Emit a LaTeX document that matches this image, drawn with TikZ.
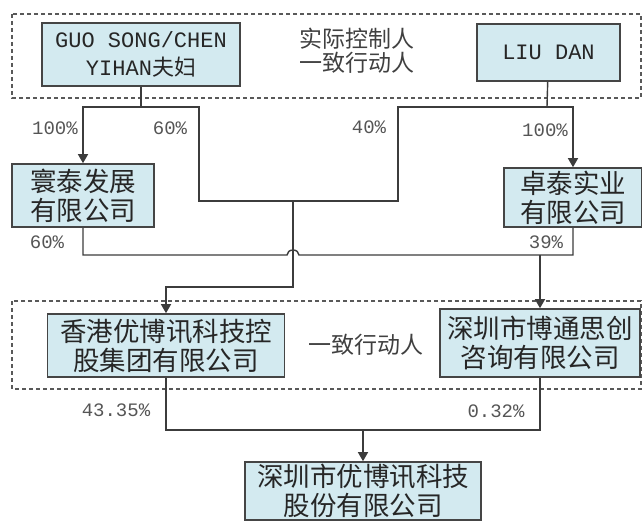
\documentclass[tikz,border=0pt]{standalone}
\usepackage{fontspec}
\setmainfont{Liberation Mono}
\newfontfamily\cjk{Noto Sans CJK SC}
\usetikzlibrary{arrows.meta}

\definecolor{boxfill}{HTML}{D3EAF0}
\definecolor{boxline}{HTML}{454545}
\definecolor{wirecol}{HTML}{3C3C3C}
\definecolor{pctcol}{HTML}{555555}

\tikzset{
    holder/.style={draw=boxline, line width=1.6pt, fill=boxfill, align=center,
        inner sep=0pt, text=black!85, font=\cjk\fontsize{26.5}{29}\selectfont},
    person/.style={holder, font=\rmfamily\fontsize{22}{28}\selectfont},
    group/.style={draw=black!65, dash pattern=on 4pt off 3pt, line width=1.2pt},
    wire/.style={draw=wirecol, line width=1.4pt},
    link/.style={wire, -{Triangle[length=9pt,width=10pt]}},
    pct/.style={text=pctcol, inner sep=0pt, font=\fontsize{19}{21}\selectfont},
    note/.style={text=black!75, align=center, inner sep=0pt, font=\cjk\fontsize{23}{24}\selectfont}
}

\begin{document}
\begin{tikzpicture}[x=1pt, y=-1pt]
\useasboundingbox (0,0) rectangle (642,521);

%acting in concert groups
\draw[group] (12,14) rectangle (641,98);
\draw[group] (12,301) rectangle (641,389);

%actual controllers
\node[person, minimum width=198pt, minimum height=63pt] (guo) at (141,54.5) {GUO SONG/CHEN\\YIHAN{\cjk 夫妇}};
\node[person, minimum width=143pt, minimum height=57pt] (liu) at (548.5,52.5) {LIU DAN};
\node[note] (ctrl) at (357,51) {实际控制人\\一致行动人};

%holding companies
\node[holder, minimum width=142pt, minimum height=63pt] (huantai) at (83,195.5) {寰泰发展\\有限公司};
\node[holder, minimum width=138pt, minimum height=59pt] (zhuotai) at (573,197.5) {卓泰实业\\有限公司};

%shareholders
\node[holder, minimum width=237pt, minimum height=63pt] (hk) at (166,345.5) {香港优博讯科技控\\股集团有限公司};
\node[holder, minimum width=200pt, minimum height=68pt] (botong) at (540,343) {深圳市博通思创\\咨询有限公司};
\node[note] (act) at (366,345) {一致行动人};

%listed company
\node[holder, minimum width=236pt, minimum height=58pt] (ubx) at (363,491) {深圳市优博讯科技\\股份有限公司};

%junctions
\coordinate (gsplit) at (141,107);
\coordinate (lsplit) at (547,107);
\coordinate (gjoin) at (293,201);
\coordinate (tap) at (540,255);
\coordinate (ujoin) at (363,430);

%connections top
\draw[wire] (guo) -- (gsplit);
\draw[wire] (liu) -- (lsplit);
\draw[link] (gsplit) -| (huantai);
\draw[link] (lsplit) -| (zhuotai);
\draw[wire] (gsplit) -- (199,107) -- (199,201) -- (398,201) |- (lsplit);
\draw[link] (gjoin) -- (293,287) -| (hk);

%connections middle
\draw[wire] (huantai) |- (287,255) arc[start angle=180, end angle=360, x radius=6, y radius=5] -| (zhuotai);
\draw[link] (tap) -- (botong);

%connections bottom
\draw[wire] (hk) |- (ujoin) -| (botong);
\draw[link] (ujoin) -- (ubx);

%percentages
\node[pct] (p1) at (55,128) {100\%};
\node[pct] (p2) at (170,128) {60\%};
\node[pct] (p3) at (369,127) {40\%};
\node[pct] (p4) at (545,130) {100\%};
\node[pct] (p5) at (47,242) {60\%};
\node[pct] (p6) at (546,242) {39\%};
\node[pct] (p7) at (116,410) {43.35\%};
\node[pct] (p8) at (496,411) {0.32\%};
\end{tikzpicture}
\end{document}
